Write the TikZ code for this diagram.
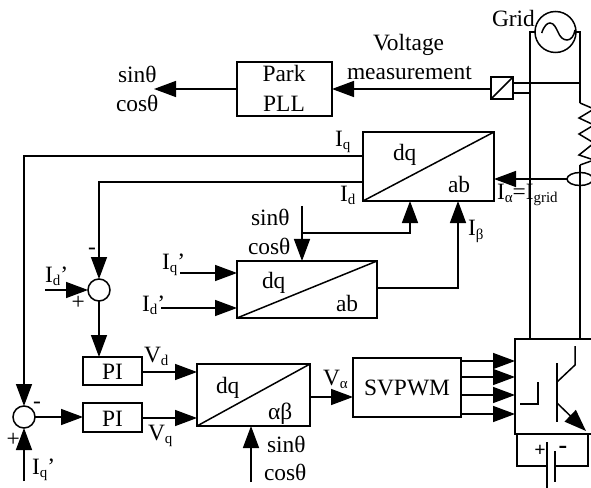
\documentclass[tikz,border=0pt]{standalone}
\usepackage{fontspec}
\setmainfont{Liberation Serif}
\usetikzlibrary{arrows.meta,shapes.geometric}
\newcommand{\lowtxt}[1]{\raisebox{-3bp}{\fontsize{15}{15}\selectfont #1}}
\tikzset{
  wire/.style={line width=1.5bp,line join=miter},
  arr/.style={wire,-{Triangle[length=22bp,width=16bp]}},
  blockbox/.style={draw,line width=1.5bp,inner sep=0pt,outer sep=0pt},
  sumnode/.style={draw,circle,line width=1.5bp,minimum size=22bp,inner sep=0pt,outer sep=0pt},
  lbl/.style={inner sep=0pt,outer sep=0pt,anchor=base west,font=\fontsize{23.5}{23.5}\selectfont},
  lblc/.style={inner sep=0pt,outer sep=0pt,anchor=base,font=\fontsize{23.5}{23.5}\selectfont,align=center},
}
\begin{document}
\begin{tikzpicture}[x=1bp,y=-1bp]
\useasboundingbox (0,0) rectangle (591,488);
\fill[white] (0,0) rectangle (591,488);
\begin{scope}
\clip (0,0) rectangle (591,488);
% boxes
\node[blockbox,minimum width=95bp,minimum height=54bp] (pll) at (284.5,89) {};
\node[blockbox,minimum width=131bp,minimum height=69bp] (dqa) at (428.5,166.5) {};
\node[blockbox,minimum width=140bp,minimum height=57bp] (dqb) at (307,289.5) {};
\node[blockbox,minimum width=113bp,minimum height=62bp] (dqc) at (253.5,395) {};
\node[blockbox,minimum width=59bp,minimum height=28bp] (pia) at (112.5,371) {};
\node[blockbox,minimum width=59bp,minimum height=29bp] (pib) at (112.5,417.5) {};
\node[blockbox,minimum width=108bp,minimum height=59bp] (svp) at (407,387.5) {};
\node[blockbox,minimum width=22bp,minimum height=22bp] (sens) at (502,88) {};
\node[blockbox,minimum width=100bp,minimum height=95bp] (inv) at (565,386.5) {};
\node[sumnode] (suma) at (99,290) {};
\node[sumnode] (sumb) at (24,417) {};
\node[draw,circle,line width=1.5bp,minimum size=41bp,inner sep=0pt,outer sep=0pt] (grid) at (555.5,32) {};
\node[draw,ellipse,line width=1.5bp,minimum width=26bp,minimum height=13bp,inner sep=0pt,outer sep=0pt] (ct) at (580,179) {};
% diagonals
\foreach \b in {dqa,dqb,dqc,sens} \draw[wire] (\b.south west) -- (\b.north east);
% sine
\draw[wire] (541.7,33) .. controls (544,26) and (547,23) .. (550,23) .. controls (554,23) and (556,28) .. (558,32) .. controls (560,37) and (563,40) .. (567,40) .. controls (571,40) and (574,36) .. (575,30);
% free ends
\coordinate (sinL) at (154,89);
\coordinate (gl) at (530,32);
\coordinate (gr) at (580,32);
\coordinate (indtop) at (580,103);
\coordinate (indbot) at (580,165);
\coordinate (iqtop) at (24,156);
\coordinate (idtop) at (99,182);
\coordinate (sa) at (302,206);
\coordinate (sb) at (302,233);
\coordinate (bend) at (458,288);
\coordinate (iqa) at (180,273);
\coordinate (ida) at (161,308);
\coordinate (idb) at (45,290);
\coordinate (iqb) at (24,481);
\coordinate (sc) at (251,482);
% grid wiring
\draw[wire] (grid.west |- 0,32) -- (gl) -- (gl |- inv.north);
\draw[wire] (grid.east |- 0,32) -- (gr) -- (indtop);
\draw[wire] (indtop) -- (594,109) -- (579,118) -- (594,125) -- (579,134) -- (594,143) -- (579,155) -- (594,160) -- (indbot);
\draw[wire] (indbot) -- (gr |- inv.north);
\draw[wire] (sens.east |- 0,83) -- (gr |- 0,83);
\draw[wire] (sens.east |- 0,93) -- (gl |- 0,93);
% measurement
\draw[arr] (sens.west |- 0,89) -- (pll.east |- 0,89);
\draw[arr] (pll.west) -- (sinL);
\draw[arr] (ct.west) -- (dqa.east |- ct.west);
% upper dq outputs
\draw[arr] (dqa.west |- iqtop) -- (iqtop) -- (sumb.north);
\draw[arr] (dqa.west |- idtop) -- (idtop) -- (suma.north);
% theta
\draw[arr] (sa) -- (sa |- dqb.north);
\draw[arr] (sb) -- (410,233) -- (410,201);
\draw[arr] (dqb.east |- bend) -- (bend) -- (bend |- dqa.south);
\draw[arr] (iqa) -- (dqb.west |- iqa);
\draw[arr] (ida) -- (dqb.west |- ida);
\draw[arr] (idb) -- (suma.west);
\draw[arr] (suma.south) -- (pia.north -| suma.south);
\draw[arr] (pia.east |- 0,372) -- (dqc.west |- 0,372);
\draw[arr] (pib.east |- 0,418) -- (dqc.west |- 0,418);
\draw[arr] (sumb.east) -- (pib.west |- sumb.east);
\draw[arr] (iqb) -- (sumb.south);
\draw[arr] (sc) -- (sc |- dqc.south);
\draw[arr] (dqc.east |- 0,397) -- (svp.west |- 0,397);
\foreach \yy in {361,377,395,414} \draw[arr] (svp.east |- 0,\yy) -- (inv.west |- 0,\yy);
% inverter symbol
\coordinate (lta) at (520,404);
\coordinate (ltb) at (538,404);
\coordinate (ltc) at (538,382);
\draw[wire] (lta) -- (ltb) -- (ltc);
\coordinate (bara) at (557,363);
\coordinate (barb) at (557,422);
\draw[wire] (bara) -- (barb);
\draw[wire] (557,382) -- (575,365) -- (575,346);
\draw[arr] (557,403) -- (586,431);
% battery
\coordinate (pla) at (547,442);
\coordinate (plb) at (547,488);
\coordinate (plc) at (555,451);
\coordinate (pld) at (555,482);
\draw[wire] (pla) -- (plb);
\draw[wire] (plc) -- (pld);
\draw[wire] (517,434) -- (517,466) -- (547,466);
\draw[wire] (555,466) -- (588,466) -- (588,434);
\end{scope}
% texts
\node[lbl] (tgrid) at (492,27) {Grid};
\node[lbl] (tvolt) at (373,51) {Voltage};
\node[lbl] (tmeas) at (347,80) {measurement};
\node[lblc] (tpark) at (284,82) {Park};
\node[lblc] (tpll) at (284,112) {PLL};
\node[lbl] (tsa) at (118,83) {sinθ};
\node[lbl] (tca) at (116,112) {cosθ};
\node[lbl] (tiq) at (335,147) {I\lowtxt{q}};
\node[lbl] (tid) at (340,202) {I\lowtxt{d}};
\node[lbl] (tdqa) at (393,161) {dq};
\node[lbl] (taba) at (448,193) {ab};
\node[lbl] (tig) at (497,200) {I\lowtxt{α}=I\lowtxt{grid}};
\node[lbl] (tib) at (468,236) {I\lowtxt{β}};
\node[lbl] (tsb) at (251,226) {sinθ};
\node[lbl] (tcb) at (248,254) {cosθ};
\node[lbl] (tiqb) at (162,269) {I\lowtxt{q}’};
\node[lbl] (tidb) at (142,311) {I\lowtxt{d}’};
\node[lbl] (tdqb) at (262,288) {dq};
\node[lbl] (tabb) at (336,311) {ab};
\node[lbl] (tidc) at (45,282) {I\lowtxt{d}’};
\node[lbl] (tpa) at (71.5,309) {+};
\node[lbl] (tma) at (88,254) {-};
\node[lblc] (tpia) at (112.5,379) {PI};
\node[lblc] (tpib) at (112.5,426) {PI};
\node[lbl] (tvd) at (144,362) {V\lowtxt{d}};
\node[lbl] (tvq) at (148,440) {V\lowtxt{q}};
\node[lbl] (tdqc) at (216,393) {dq};
\node[lbl] (tabc) at (268,419) {αβ};
\node[lbl] (tva) at (323,385) {V\lowtxt{α}};
\node[lblc] (tsvp) at (407,395) {SVPWM};
\node[lbl] (tsc) at (267,452) {sinθ};
\node[lbl] (tcc) at (264,480) {cosθ};
\node[lbl] (tpb) at (6.5,446) {+};
\node[lbl] (tmb) at (33,408) {-};
\node[lbl] (tiqc) at (32,474) {I\lowtxt{q}’};
\node[inner sep=0pt,font=\fontsize{20}{20}\selectfont\bfseries] (tpc) at (540,451) {+};
\node[inner sep=0pt,font=\fontsize{26}{26}\selectfont\bfseries] (tmc) at (563,450) {-};
\end{tikzpicture}
\end{document}
